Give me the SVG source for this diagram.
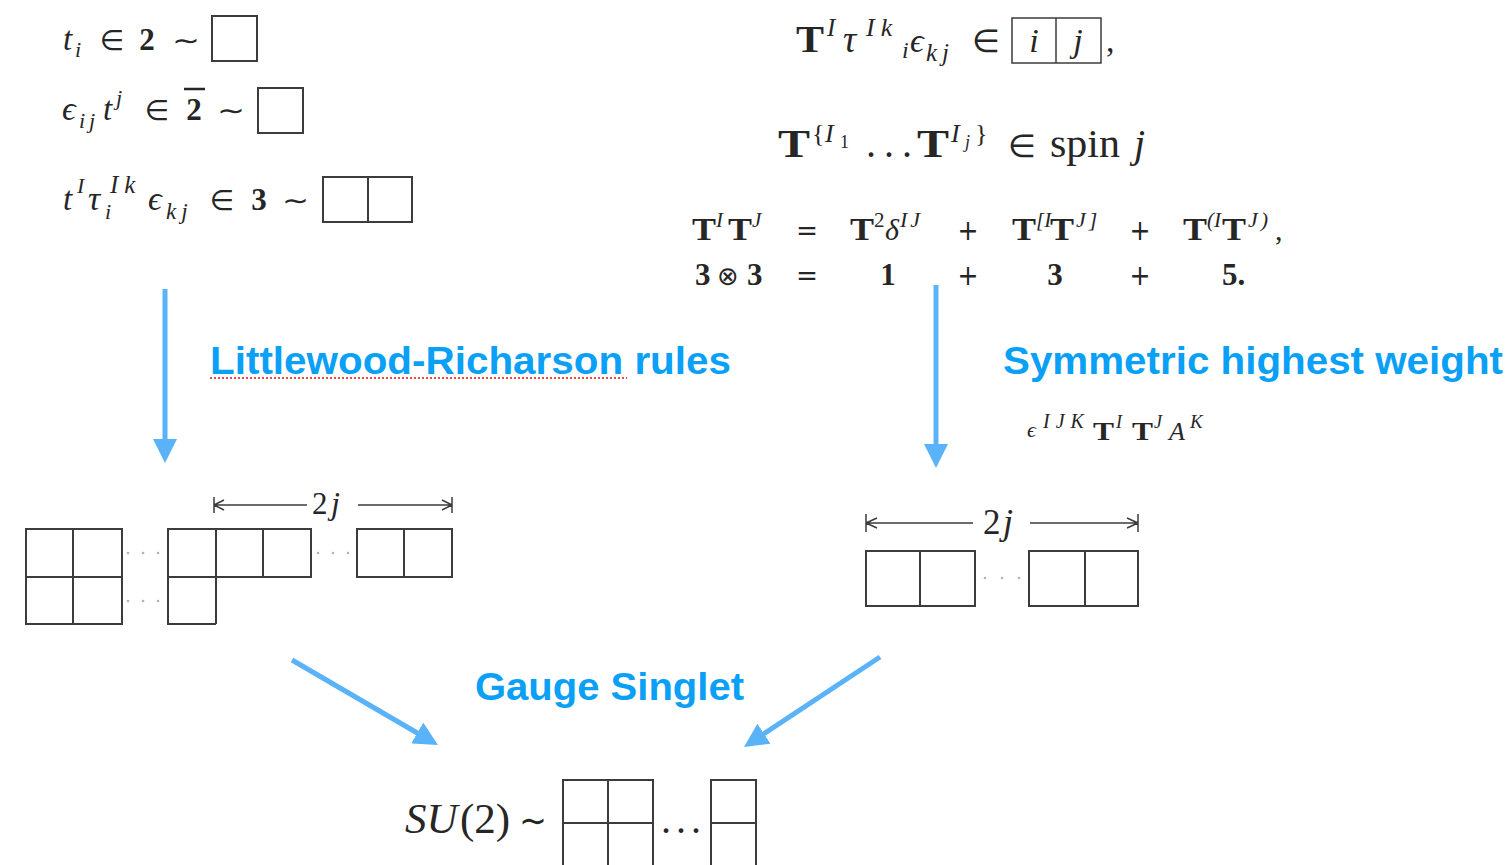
<svg xmlns="http://www.w3.org/2000/svg" width="1512" height="865" viewBox="0 0 1512 865">
<style>
.m{font-family:"Liberation Serif","DejaVu Serif",serif;fill:#262626}
.it{font-style:italic}
.bf{font-weight:bold}
.sy{font-family:"DejaVu Sans",sans-serif;fill:#262626}
.mid{text-anchor:middle}
.box{fill:none;stroke:#3c3c3c;stroke-width:2}
.thin{fill:none;stroke:#3c3c3c;stroke-width:1.5}
.lbl{font-family:"Liberation Sans",Arial,sans-serif;font-weight:bold;font-size:39px;fill:#0aa0f6}
.conn{stroke:#5ab2f8;stroke-width:5;fill:none;marker-end:url(#ah)}
.dot{fill:#b5b5b5}
</style>
<defs>
<marker id="ah" markerUnits="userSpaceOnUse" viewBox="0 0 24 24" markerWidth="24" markerHeight="24" refX="12" refY="12" orient="auto">
<path d="M0,0 L24,12 L0,24 z" fill="#5ab2f8"/>
</marker>
</defs>
<rect width="1512" height="865" fill="#ffffff"/>

<g id="rep-2">
<text class="m it" x="63" y="50" font-size="33">t</text>
<text class="m it" x="75" y="57" font-size="22">i</text>
<text class="sy mid" x="112" y="50" font-size="28">∈</text>
<text class="m bf mid" x="147" y="50" font-size="31">2</text>
<text class="sy" x="172" y="50" font-size="28" textLength="28" lengthAdjust="spacingAndGlyphs">∼</text>
<rect class="box" x="212" y="16" width="45" height="45"/>
</g>

<g id="rep-2bar">
<text class="m it" x="62" y="120" font-size="34">ϵ</text>
<text class="m it" x="79" y="128" font-size="22" letter-spacing="4">ij</text>
<text class="m it" x="103" y="120" font-size="33">t</text>
<text class="m it" x="116" y="105" font-size="22">j</text>
<text class="sy mid" x="157" y="120" font-size="28">∈</text>
<text class="m bf mid" x="194" y="120" font-size="31">2</text>
<line x1="184" y1="89" x2="205" y2="89" stroke="#262626" stroke-width="2.5"/>
<text class="sy" x="217" y="120" font-size="28" textLength="28" lengthAdjust="spacingAndGlyphs">∼</text>
<rect class="box" x="258" y="88" width="45" height="45"/>
</g>

<g id="rep-3">
<text class="m it" x="63" y="210" font-size="33">t</text>
<text class="m it" x="77" y="193" font-size="22">I</text>
<text class="m it" x="88" y="210" font-size="34">τ</text>
<text class="m it" x="105" y="219" font-size="22">i</text>
<text class="m it" x="110" y="193" font-size="25" letter-spacing="6">Ik</text>
<text class="m it" x="148" y="210" font-size="34">ϵ</text>
<text class="m it" x="166" y="219" font-size="23" letter-spacing="5">kj</text>
<text class="sy mid" x="222" y="210" font-size="28">∈</text>
<text class="m bf mid" x="259" y="210" font-size="31">3</text>
<text class="sy" x="282" y="210" font-size="28" textLength="27" lengthAdjust="spacingAndGlyphs">∼</text>
<rect class="box" x="323" y="177" width="89" height="45"/>
<line class="box" x1="368" y1="177" x2="368" y2="222"/>
</g>

<g id="tensor-ij">
<text class="m bf" x="796" y="52" font-size="38" textLength="28" lengthAdjust="spacingAndGlyphs">T</text>
<text class="m it" x="827" y="36" font-size="25">I</text>
<text class="m it" x="843" y="52" font-size="37">τ</text>
<text class="m it" x="866" y="36" font-size="26" letter-spacing="6">Ik</text>
<text class="m it" x="902" y="58" font-size="24">i</text>
<text class="m it" x="910" y="52" font-size="34">ϵ</text>
<text class="m it" x="926" y="61" font-size="25" letter-spacing="5">kj</text>
<text class="sy mid" x="986" y="52" font-size="32">∈</text>
<rect class="thin" x="1012" y="18" width="89" height="45"/>
<line class="thin" x1="1056" y1="18" x2="1056" y2="63"/>
<text class="m it mid" x="1034" y="52" font-size="34">i</text>
<text class="m it mid" x="1078" y="52" font-size="34">j</text>
<text class="m" x="1106" y="52" font-size="34">,</text>
</g>

<g id="spin-j">
<text class="m bf" x="778" y="157" font-size="40" textLength="32" lengthAdjust="spacingAndGlyphs">T</text>
<text class="m" x="812" y="142" font-size="26">{</text>
<text class="m it" x="825" y="142" font-size="26">I</text>
<text class="m" x="840" y="148" font-size="18">1</text>
<text class="m" x="866" y="157" font-size="40" textLength="46" lengthAdjust="spacing">...</text>
<text class="m bf" x="917" y="157" font-size="40" textLength="32" lengthAdjust="spacingAndGlyphs">T</text>
<text class="m it" x="951" y="142" font-size="26">I</text>
<text class="m it" x="965" y="148" font-size="18">j</text>
<text class="m" x="975" y="142" font-size="26">}</text>
<text class="sy mid" x="1022" y="157" font-size="32">∈</text>
<text class="m" x="1050" y="157" font-size="40" textLength="70" lengthAdjust="spacingAndGlyphs">spin</text>
<text class="m it" x="1134" y="157" font-size="40">j</text>
</g>

<g id="decomposition">
<text class="m bf" x="692" y="240" font-size="32" textLength="24" lengthAdjust="spacingAndGlyphs">T</text>
<text class="m it" x="716" y="227" font-size="21">I</text>
<text class="m bf" x="728" y="240" font-size="32" textLength="24" lengthAdjust="spacingAndGlyphs">T</text>
<text class="m it" x="752" y="227" font-size="21">J</text>
<text class="sy mid" x="807" y="240" font-size="28" textLength="22" lengthAdjust="spacingAndGlyphs">=</text>
<text class="m bf" x="850" y="240" font-size="32" textLength="24" lengthAdjust="spacingAndGlyphs">T</text>
<text class="m" x="874" y="227" font-size="21">2</text>
<text class="m it" x="885" y="240" font-size="30">δ</text>
<text class="m it" x="900" y="227" font-size="22" letter-spacing="3">IJ</text>
<text class="sy mid" x="968" y="240" font-size="28" textLength="21" lengthAdjust="spacingAndGlyphs">+</text>
<text class="m bf" x="1012" y="240" font-size="32" textLength="24" lengthAdjust="spacingAndGlyphs">T</text>
<text class="m it" x="1036" y="227" font-size="21">[I</text>
<text class="m bf" x="1050" y="240" font-size="32" textLength="24" lengthAdjust="spacingAndGlyphs">T</text>
<text class="m it" x="1076" y="227" font-size="22" letter-spacing="3">J]</text>
<text class="sy mid" x="1140" y="240" font-size="28" textLength="21" lengthAdjust="spacingAndGlyphs">+</text>
<text class="m bf" x="1183" y="240" font-size="32" textLength="24" lengthAdjust="spacingAndGlyphs">T</text>
<text class="m it" x="1207" y="227" font-size="21">(I</text>
<text class="m bf" x="1222" y="240" font-size="32" textLength="24" lengthAdjust="spacingAndGlyphs">T</text>
<text class="m it" x="1248" y="227" font-size="22" letter-spacing="3">J)</text>
<text class="m" x="1275" y="240" font-size="30">,</text>

<text class="m bf" x="695" y="285" font-size="31">3</text>
<text class="sy mid" x="728" y="285" font-size="26" fill="#6a6a6a">⊗</text>
<text class="m bf" x="747" y="285" font-size="31">3</text>
<text class="sy mid" x="807" y="285" font-size="28" textLength="22" lengthAdjust="spacingAndGlyphs">=</text>
<text class="m bf mid" x="888" y="285" font-size="31">1</text>
<text class="sy mid" x="968" y="285" font-size="28" textLength="21" lengthAdjust="spacingAndGlyphs">+</text>
<text class="m bf mid" x="1055" y="285" font-size="31">3</text>
<text class="sy mid" x="1140" y="285" font-size="28" textLength="21" lengthAdjust="spacingAndGlyphs">+</text>
<text class="m bf" x="1222" y="285" font-size="31">5.</text>
</g>

<g id="epsilon-term">
<text class="m it" x="1027" y="437" font-size="22">ϵ</text>
<text class="m it" x="1043" y="428" font-size="20" letter-spacing="6">IJK</text>
<text class="m bf" x="1093" y="440" font-size="26" textLength="21" lengthAdjust="spacingAndGlyphs">T</text>
<text class="m it" x="1116" y="428" font-size="18">I</text>
<text class="m bf" x="1132" y="440" font-size="26" textLength="21" lengthAdjust="spacingAndGlyphs">T</text>
<text class="m it" x="1154" y="428" font-size="18">J</text>
<text class="m it" x="1169" y="440" font-size="26">A</text>
<text class="m it" x="1190" y="428" font-size="19">K</text>
</g>

<g id="label-lr">
<text class="lbl" x="210" y="374" textLength="521" lengthAdjust="spacingAndGlyphs">Littlewood-Richarson rules</text>
<line x1="210" y1="378" x2="627" y2="378" stroke="#e84a4a" stroke-width="2" stroke-dasharray="2 2"/>
</g>

<g id="label-shw">
<text class="lbl" x="1003" y="374" textLength="500" lengthAdjust="spacingAndGlyphs">Symmetric highest weight</text>
</g>

<g id="label-gauge">
<text class="lbl" x="475" y="700" textLength="269" lengthAdjust="spacingAndGlyphs">Gauge Singlet</text>
</g>

<g id="young-left">
<rect class="box" x="26" y="529" width="96" height="95"/>
<line class="box" x1="73" y1="529" x2="73" y2="624"/>
<line class="box" x1="26" y1="577" x2="122" y2="577"/>
<circle class="dot" cx="128" cy="553" r="1.3"/><circle class="dot" cx="143" cy="553" r="1.3"/><circle class="dot" cx="158" cy="553" r="1.3"/>
<circle class="dot" cx="128" cy="601" r="1.3"/><circle class="dot" cx="143" cy="601" r="1.3"/><circle class="dot" cx="158" cy="601" r="1.3"/>
<rect class="box" x="168" y="529" width="143" height="48"/>
<line class="box" x1="216" y1="529" x2="216" y2="624"/>
<line class="box" x1="263" y1="529" x2="263" y2="577"/>
<polyline class="box" points="168,577 168,624 216,624"/>
<circle class="dot" cx="318" cy="553" r="1.3"/><circle class="dot" cx="333" cy="553" r="1.3"/><circle class="dot" cx="348" cy="553" r="1.3"/>
<rect class="box" x="357" y="529" width="95" height="48"/>
<line class="box" x1="404" y1="529" x2="404" y2="577"/>
<path class="thin" d="M214,497 V513 M214,505 H307 M214,505 L224,500 M214,505 L224,510 M452,497 V513 M358,505 H452 M452,505 L442,500 M452,505 L442,510"/>
<text class="m" x="312" y="514" font-size="31">2</text>
<text class="m it" x="331" y="514" font-size="32">j</text>
</g>

<g id="young-right">
<rect class="box" x="866" y="551" width="109" height="55"/>
<line class="box" x1="920" y1="551" x2="920" y2="606"/>
<circle class="dot" cx="985" cy="578" r="1.3"/><circle class="dot" cx="1002" cy="578" r="1.3"/><circle class="dot" cx="1019" cy="578" r="1.3"/>
<rect class="box" x="1029" y="551" width="109" height="55"/>
<line class="box" x1="1085" y1="551" x2="1085" y2="606"/>
<path class="thin" d="M866,514 V532 M866,523 H973 M866,523 L877,518 M866,523 L877,528 M1138,514 V532 M1030,523 H1138 M1138,523 L1127,518 M1138,523 L1127,528"/>
<text class="m" x="983" y="534" font-size="35">2</text>
<text class="m it" x="1003" y="534" font-size="36">j</text>
</g>

<g id="su2">
<text class="m it" x="405" y="833" font-size="43">SU</text>
<text class="m" x="460" y="833" font-size="43">(2)</text>
<text class="sy" x="519" y="833" font-size="36" textLength="28" lengthAdjust="spacingAndGlyphs">∼</text>
<path class="box" d="M563,866 V780 H653 V866 M608,780 V866 M563,823 H653"/>
<text class="m" x="661" y="833" font-size="40" textLength="40" lengthAdjust="spacing">...</text>
<path class="box" d="M711,866 V780 H756 V866 M711,823 H756"/>
</g>

<g id="connectors">
<line class="conn" x1="165" y1="289" x2="165" y2="451"/>
<line class="conn" x1="936" y1="285" x2="936" y2="456"/>
<line class="conn" x1="292" y1="660" x2="427.6" y2="739"/>
<line class="conn" x1="880" y1="657" x2="754" y2="740.4"/>
</g>
</svg>
